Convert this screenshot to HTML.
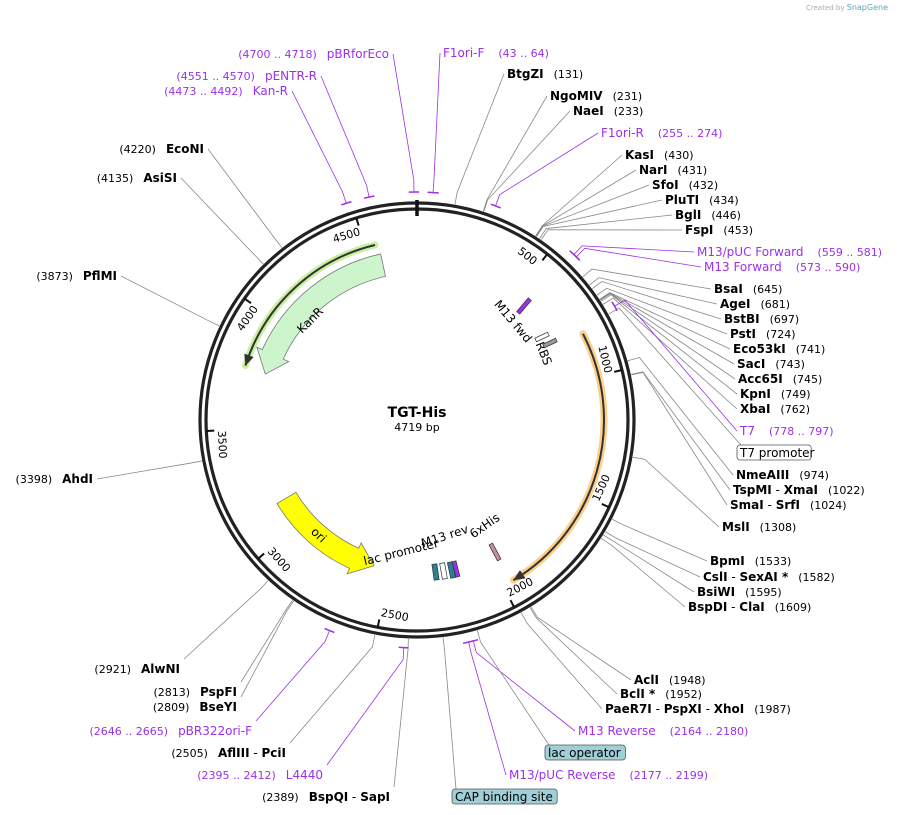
<!DOCTYPE html>
<html><head><meta charset="utf-8"><style>
body{margin:0;background:#fff}
svg{display:block;font-family:"DejaVu Sans","Liberation Sans",sans-serif}
</style></head><body>
<svg id="map" width="904" height="815" viewBox="0 0 904 815">
<text x="806" y="10" font-size="7" fill="#aaa">Created by <tspan fill="#5ab" font-size="8">SnapGene</tspan></text>
<g id="leaders"></g>
<g id="ring">
<circle cx="417" cy="420" r="217" fill="none" stroke="#222" stroke-width="3.2"/>
<circle cx="417" cy="420" r="211" fill="none" stroke="#222" stroke-width="3.2"/>
<line x1="417" y1="200" x2="417" y2="216" stroke="#111" stroke-width="3.5"/>
</g>
<g id="ticks"></g>
<g id="features"></g>
<g id="labels"></g>
<text x="417" y="417" text-anchor="middle" font-size="14" font-weight="bold">TGT-His</text>
<text x="417" y="431" text-anchor="middle" font-size="11">4719 bp</text>
</svg>
<script>
const TOTAL = 4719;
const tickPositions = [500,1000,1500,2000,2500,3000,3500,4000,4500];
const rightNames = ["F1ori-F","BtgZI","NgoMIV","NaeI","F1ori-R","KasI","NarI","SfoI","PluTI","BglI","FspI","M13/pUC Forward","M13 Forward","BsaI","AgeI","BstBI","PstI","Eco53kI","SacI","Acc65I","KpnI","XbaI","T7","NmeAIII","TspMI - XmaI","SmaI - SrfI","MslI","BpmI","CslI - SexAI *","BsiWI","BspDI - ClaI","AclI","BclI *","PaeR7I - PspXI - XhoI","M13 Reverse","M13/pUC Reverse"];
const rightNums = ["(43 .. 64)","(131)","(231)","(233)","(255 .. 274)","(430)","(431)","(432)","(434)","(446)","(453)","(559 .. 581)","(573 .. 590)","(645)","(681)","(697)","(724)","(741)","(743)","(745)","(749)","(762)","(778 .. 797)","(974)","(1022)","(1024)","(1308)","(1533)","(1582)","(1595)","(1609)","(1948)","(1952)","(1987)","(2164 .. 2180)","(2177 .. 2199)"];
const rightSites = [53,131,231,233,264,430,431,432,434,446,453,570,581,645,681,697,724,741,743,745,749,762,787,974,1022,1024,1308,1533,1582,1595,1609,1948,1952,1987,2172,2188];
const rightX = [443,507,550,573,601,625,639,652,665,675,685,697,704,714,720,724,730,733,737,738,740,740,740,736,733,730,722,710,703,697,688,634,620,605,578,509];
const rightY = [57,78,100,115,137,159,174,189,204,219,234,256,271,293,308,323,338,353,368,383,398,413,435,479,494,509,531,565,581,596,611,684,698,713,735,779];
const rightPurple = [1,0,0,0,1,0,0,0,0,0,0,1,1,0,0,0,0,0,0,0,0,0,1,0,0,0,0,0,0,0,0,0,0,0,1,1];
const leftNames = ["BspQI - SapI","L4440","AflIII - PciI","pBR322ori-F","BseYI","PspFI","AlwNI","AhdI","PflMI","AsiSI","EcoNI","Kan-R","pENTR-R","pBRforEco"];
const leftNums = ["(2389)","(2395 .. 2412)","(2505)","(2646 .. 2665)","(2809)","(2813)","(2921)","(3398)","(3873)","(4135)","(4220)","(4473 .. 4492)","(4551 .. 4570)","(4700 .. 4718)"];
const leftSites = [2389,2403,2505,2655,2809,2813,2921,3398,3873,4135,4220,4482,4560,4709];
const leftX = [390,323,286,252,237,237,180,93,117,177,204,288,317,389];
const leftY = [801,779,757,735,711,696,673,483,280,182,153,95,80,58];
const leftPurple = [0,1,0,1,0,0,0,0,0,0,0,1,1,1];
const boxNames = ["T7 promoter","lac operator","CAP binding site"];
const boxSites = [800,2150,2270];
const boxX = [737,545,452];
const boxY = [457,757,801];
const boxFill = ["#fff","#9fcfd8","#9fcfd8"];
const primerStart = [43,255,559,573,778,2164,2177,2395,2646,4473,4551,4700];
const primerEnd = [64,274,581,590,797,2180,2199,2412,2665,4492,4570,4718];

const NS="http://www.w3.org/2000/svg", cx=417, cy=420, PUR="#9b30e8";
function ang(p){return p/TOTAL*2*Math.PI;}
function pt(p,r){const a=ang(p);return [cx+r*Math.sin(a),cy-r*Math.cos(a)];}
function mk(tag,attrs,parent){const e=document.createElementNS(NS,tag);for(const k in attrs)e.setAttribute(k,attrs[k]);parent.appendChild(e);return e;}
function arcPath(p1,p2,r,sweep){const a=pt(p1,r),b=pt(p2,r);let d=((p2-p1)*(sweep?1:-1)+TOTAL)%TOTAL;const large=d>TOTAL/2?1:0;return `M${a[0]},${a[1]} A${r},${r} 0 ${large} ${sweep?1:0} ${b[0]},${b[1]}`;}
const G=id=>document.getElementById(id);

tickPositions.forEach(p=>{
  const a=pt(p,211),b=pt(p,203);
  const t=mk('line',{x1:a[0],y1:a[1],x2:b[0],y2:b[1],stroke:'#111','stroke-width':2},G('ticks'));
  
  
  const deg=p/TOTAL*360; let rot=(deg<90)?deg:(deg>270?deg-360:deg-180);
  const c=pt(p-TOTAL*4.2/360,197);
  const tx=mk('text',{x:c[0],y:c[1],'font-size':11,'text-anchor':'middle','dominant-baseline':'middle',transform:`rotate(${rot} ${c[0]} ${c[1]})`},G('ticks'));
  tx.textContent=p;
  
  
});

primerStart.forEach((s,i)=>{
  const e=primerEnd[i];
  const g=mk('path',{d:arcPath(s-8,e+8,228,true),fill:'none',stroke:PUR,'stroke-width':1.5},G('features'));
  
  
});

function leader(site,r0,x,y,color){
  const a=pt(site,r0),b=pt(site,r0+12);
  const l=mk('polyline',{points:`${a[0]},${a[1]} ${b[0]},${b[1]} ${x},${y}`,fill:'none',stroke:color,'stroke-width':0.8},G('leaders'));
  
  
}
function boldParts(t,name,firstDx){
  name.split(' - ').forEach((s,i)=>{
    if(i>0){const sp=mk('tspan',{'font-weight':'normal'},t);sp.textContent=' - ';}
    const at={'font-weight':'bold'};
    if(i===0&&firstDx)at.dx=firstDx;
    const b=mk('tspan',at,t);b.textContent=s;
  });
}
rightNames.forEach((n,i)=>{
  const purple=rightPurple[i], col=purple?PUR:'#000';
  leader(rightSites[i],purple?228:219,rightX[i]-3,rightY[i]-4,purple?PUR:'#888');
  const t=mk('text',{x:rightX[i],y:rightY[i],'font-size':12,fill:col},G('labels'));
  
  
  if(purple){const s=mk('tspan',{},t);s.textContent=n;}else boldParts(t,n,0);
  const num=mk('tspan',{dx:purple?14:10,'font-size':11,'font-weight':'normal'},t);num.textContent=rightNums[i];
});
leftNames.forEach((n,i)=>{
  const purple=leftPurple[i], col=purple?PUR:'#000';
  const vert=leftY[i]>600?-14:-4;
  leader(leftSites[i],purple?228:219,leftX[i]+4,leftY[i]+vert,purple?PUR:'#888');
  const t=mk('text',{x:leftX[i],y:leftY[i],'font-size':12,fill:col,'text-anchor':'end'},G('labels'));
  
  
  const num=mk('tspan',{'font-size':11},t);num.textContent=leftNums[i];
  if(purple){const s=mk('tspan',{dx:10},t);s.textContent=n;}else boldParts(t,n,10);
});
boxNames.forEach((n,i)=>{
  leader(boxSites[i],219,boxX[i]+4,boxY[i]-12,'#888');
  const w=n.length*6.2+6;
  const r=mk('rect',{x:boxX[i],y:boxY[i]-12,width:w,height:15,rx:3,fill:boxFill[i],stroke:'#555','stroke-width':0.8},G('labels'));
  
  
  const t=mk('text',{x:boxX[i]+3,y:boxY[i],'font-size':12},G('labels'));
  t.textContent=n;
  
  
});

const F=G('features');
function thinArrow(p1,p2,r,halo,name){
  mk('path',{d:arcPath(p1,p2,r,p2>p1),fill:'none',stroke:halo,'stroke-width':7,'stroke-linecap':'round'},F);
  const p=mk('path',{d:arcPath(p1,p2,r,p2>p1),fill:'none',stroke:'#333','stroke-width':2},F);
  
  
  const dir=p2>p1?-1:1, tip=pt(p2,r), a=pt(p2+dir*45,r-5), b=pt(p2+dir*45,r+5);
  mk('polygon',{points:`${tip} ${a} ${b}`,fill:'#333'},F);
}
thinArrow(4542,3770,180,'#c8f0a0','kanr-orf-arc');
thinArrow(820,1953,187,'#fcd08a','orf-arc');
function fatArrow(tail,headStart,tip,ri,ro,fill,name){
  const cw=tip>tail;
  const P=(p,r)=>pt(p,r).join(',');
  const large=Math.abs(headStart-tail)>TOTAL/2?1:0, sw=cw?1:0;
  const d=`M${P(tail,ro)} A${ro},${ro} 0 ${large} ${sw} ${P(headStart,ro)} L${P(headStart,ro+6)} L${P(tip,(ri+ro)/2)} L${P(headStart,ri-6)} L${P(headStart,ri)} A${ri},${ri} 0 ${large} ${1-sw} ${P(tail,ri)} Z`;
  const e=mk('path',{d:d,fill:fill,stroke:'#777','stroke-width':0.8},F);
  
  
}
fatArrow(4557,3860,3760,147,170,'#ccf5cc','kanr-feature');
fatArrow(3135,2680,2575,141,163,'#ffff00','ori-feature');
function rlabel(x,y,rot,txt,name){const t=mk('text',{x:x,y:y,'font-size':12,'text-anchor':'middle',transform:`rotate(${rot} ${x} ${y})`},F);t.textContent=txt;}
rlabel(313,323,-45,'KanR','kanr-label');
rlabel(316,538,43,'ori','ori-label');
rlabel(510,324,50,'M13 fwd','m13-fwd-label');
rlabel(540,355,68,'RBS','rbs-label');
rlabel(446,540,-18,'M13 rev','m13-rev-label');
rlabel(402,556,-14,'lac promoter','lac-promoter-label');
rlabel(487,529,-35,'6xHis','6xhis-label');
function smallRect(x,y,w,h,rot,fill,name){const r=mk('rect',{x:x,y:y,width:w,height:h,fill:fill,stroke:'#333','stroke-width':0.7,transform:`rotate(${rot} ${x+w/2} ${y+h/2})`},F);}
smallRect(522,297,4,18,40,'#9b30e8','m13-fwd-feature');
smallRect(548,336,4,14,65,'#999','rbs-feature');
smallRect(540,330,4,14,65,'#fff','rbs-feature-2');
smallRect(433,564,5,16,-8,'#2a7f99','lac-promoter-feature');
smallRect(441,563,5,16,-10,'#fff','lac-operator-feature');
smallRect(449,562,5,16,-12,'#2a7f99','cap-site-feature');
smallRect(454,561,4,16,-14,'#9b30e8','m13-rev-feature');
smallRect(493,543,4,18,-28,'#c98aa8','6xhis-feature');
</script>
</body></html>
